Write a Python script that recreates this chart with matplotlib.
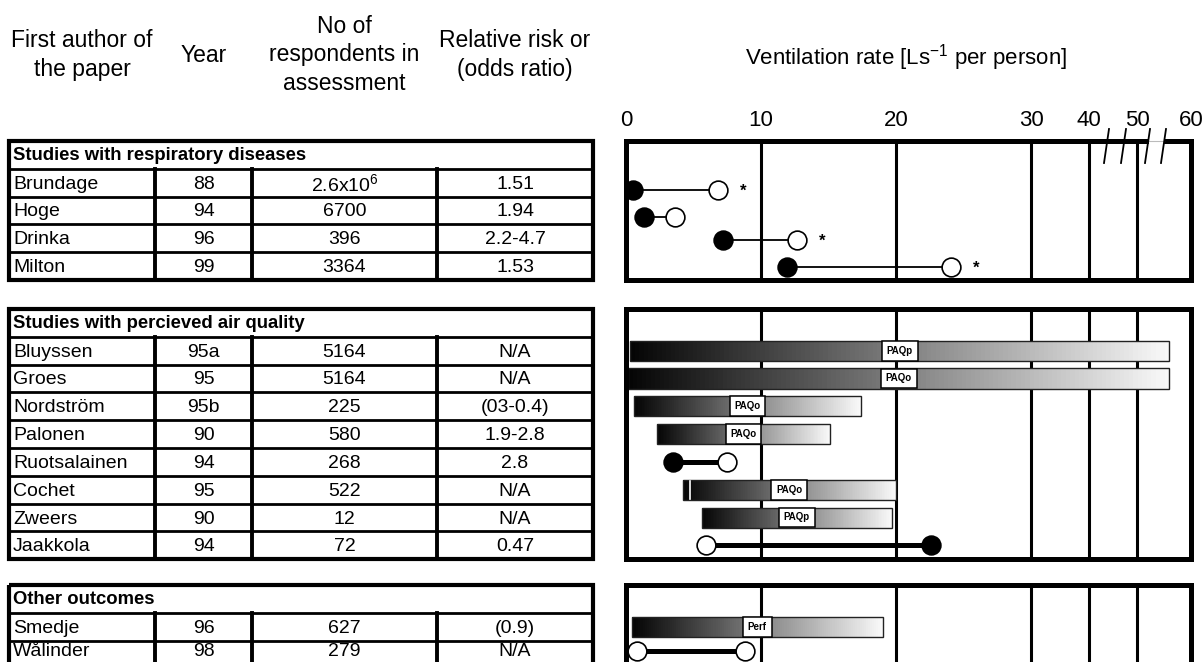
import matplotlib
matplotlib.use("Agg")
import matplotlib.pyplot as plt
from matplotlib.patches import Rectangle
import numpy as np

plt.rcParams['font.family'] = ['Liberation Sans', 'DejaVu Sans']
plt.rcParams['mathtext.default'] = 'regular'

# ventilation axis (broken above 30)
vent_ticks = [0, 10, 20, 30, 40, 50, 60]

# studies with respiratory diseases (filled = low, open = high)
resp_names = ["Brundage", "Hoge", "Drinka", "Milton"]
resp_year = ["88", "94", "96", "99"]
resp_n = ["2.6x10$^6$", "6700", "396", "3364"]
resp_rr = ["1.51", "1.94", "2.2-4.7", "1.53"]
resp_lo = [0.5, 1.3, 7.2, 11.9]
resp_hi = [6.8, 3.6, 12.7, 24.1]
resp_sig = [True, False, True, True]

# studies with perceived air quality
paq_names = ["Bluyssen", "Groes", "Nordström", "Palonen", "Ruotsalainen",
             "Cochet", "Zweers", "Jaakkola"]
paq_year = ["95a", "95", "95b", "90", "94", "95", "90", "94"]
paq_n = ["5164", "5164", "225", "580", "268", "522", "12", "72"]
paq_rr = ["N/A", "N/A", "(03-0.4)", "1.9-2.8", "2.8", "N/A", "N/A", "0.47"]
paq_lo = [0.3, 0.15, 0.6, 2.3, 3.5, 4.2, 5.6, 5.9]
paq_hi = [56, 56, 17.4, 15.1, 7.5, 20.0, 19.7, 22.6]
paq_kind = ["PAQp", "PAQo", "PAQo", "PAQo", "fo", "PAQo", "PAQp", "of"]
cochet_split = 4.75

# other outcomes
oth_names = ["Smedje", "Wålinder"]
oth_year = ["96", "98"]
oth_n = ["627", "279"]
oth_rr = ["(0.9)", "N/A"]
oth_lo = [0.45, 0.8]
oth_hi = [19.0, 8.8]
oth_kind = ["Perf", "oo"]

W, H = 1204, 662
fig = plt.figure(figsize=(W / 100, H / 100), dpi=100)

# where the ticks sit on the drawn axis (compressed above 30)
tick_pos = [0, 10, 20, 30, 34.3, 37.85, 41.85]


def fwd(x):
    return np.interp(x, vent_ticks, tick_pos)


def inv(x):
    return np.interp(x, tick_pos, vent_ticks)


PX_L, PX_R = 626, 1191
RH = 27.8
COLS = [9, 155, 252, 437, 593]


def panel(top, bottom):
    ax = fig.add_axes([PX_L / W, 1 - bottom / H, (PX_R - PX_L) / W,
                       (bottom - top) / H])
    ax.set_xscale('function', functions=(fwd, inv))
    ax.set_xlim(0, 60)
    ax.set_ylim(bottom, top)
    ax.set_xticks(vent_ticks, labels=[str(t) for t in vent_ticks])
    ax.set_yticks([])
    ax.tick_params(axis='x', length=0, labelbottom=False, labelsize=16)
    for s in ax.spines.values():
        s.set_linewidth(3.6)
    for v in vent_ticks[1:-1]:
        ax.axvline(v, color='k', lw=2.2, zorder=1)
    return ax


def grad_bar(ax, y, lo, hi, tag, h=20):
    d0, d1 = fwd(lo), fwd(hi)
    edges = inv(np.linspace(d0, d1, 121))
    shades = plt.cm.gray(np.linspace(0.02, 0.97, 120))
    ax.barh(np.full(120, y), np.diff(edges), left=edges[:-1], height=h,
            color=shades, linewidth=0, antialiased=False, zorder=1.5)
    ax.barh(y, hi - lo, left=lo, height=h, fill=False, edgecolor='#222222',
            linewidth=1.0, zorder=1.6)
    ax.text(inv((d0 + d1) / 2), y, tag, ha='center', va='center',
            fontsize=7, fontweight='bold', zorder=3,
            bbox=dict(boxstyle='square,pad=0.5', fc='white', ec='black',
                      lw=1.1))


def dumbbell(ax, y, lo, hi, lo_fc, hi_fc, lw):
    ax.plot([lo, hi], [y, y], color='k', lw=lw, zorder=2,
            solid_capstyle='butt')
    ax.plot(lo, y, 'o', ms=13.5, mfc=lo_fc, mec='k', mew=1.2, zorder=2.2)
    ax.plot(hi, y, 'o', ms=13.5, mfc=hi_fc, mec='k', mew=1.2, zorder=2.2)


FILL = {'f': 'black', 'o': 'white'}


def draw_rows(ax, ys, lo, hi, kinds):
    for y, a, b, k in zip(ys, lo, hi, kinds):
        if len(k) == 2:
            dumbbell(ax, y, a, b, FILL[k[0]], FILL[k[1]], 3.6)
        else:
            grad_bar(ax, y, a, b, k)


tab = None


def table(top, title, names, years, ns, rrs):
    n = len(names) + 1
    bot = top + n * RH
    tab.add_patch(Rectangle((COLS[0], top), COLS[-1] - COLS[0], bot - top,
                            fill=False, lw=3, ec='k'))
    for i in range(1, n):
        y = top + i * RH
        tab.plot([COLS[0], COLS[-1]], [y, y], color='k', lw=2)
    for x in COLS[1:-1]:
        tab.plot([x, x], [top + RH, bot], color='k', lw=2.8)
    tab.text(COLS[0] + 4, top + RH / 2 + 1, title, fontweight='bold',
             fontsize=13.3, ha='left', va='center')
    centers = []
    cell = dict(va='center', fontsize=14)
    for i, row in enumerate(zip(names, years, ns, rrs)):
        yc = top + (i + 1.5) * RH
        centers.append(yc)
        # last row of the bottom table is cut by the picture edge
        ty = min(yc + 1.5, H - 10.5)
        tab.text(COLS[0] + 4, ty, row[0], ha='left', **cell)
        for j in range(1, 4):
            tab.text((COLS[j] + COLS[j + 1]) / 2, ty, row[j],
                     ha='center', **cell)
    return bot, centers


# right-hand panels
T1, T2, T3 = 141, 309, 585
ax1 = panel(T1, T1 + 5 * RH)
ax1.tick_params(axis='x', labeltop=True, pad=7)
ax2 = panel(T2, T2 + 9 * RH)
ax3 = panel(T3, T3 + 3 * RH)
ax3.spines['bottom'].set_visible(False)

# overlay in pixel units for the table, headers and axis breaks
tab = fig.add_axes([0, 0, 1, 1])
tab.set_xlim(0, W)
tab.set_ylim(H, 0)
tab.axis('off')

_, c1 = table(T1, "Studies with respiratory diseases", resp_names,
              resp_year, resp_n, resp_rr)
_, c2 = table(T2, "Studies with percieved air quality", paq_names,
              paq_year, paq_n, paq_rr)
_, c3 = table(T3, "Other outcomes", oth_names, oth_year, oth_n, oth_rr)

resp_y = [190, 217, 240, 267]
for y, a, b, s in zip(resp_y, resp_lo, resp_hi, resp_sig):
    dumbbell(ax1, y, a, b, 'black', 'white', 1.3)
    if s:
        ax1.annotate('*', xy=(b, y), xytext=(18, -1),
                     textcoords='offset points', ha='center', va='center',
                     fontsize=12, fontweight='bold')

draw_rows(ax2, c2, paq_lo, paq_hi, paq_kind)
ci = paq_names.index("Cochet")
ax2.plot([cochet_split, cochet_split], [c2[ci] - 9, c2[ci] + 9],
         color='white', lw=1.2, zorder=1.7)
oth_y = [c3[0], 651]
draw_rows(ax3, oth_y, oth_lo, oth_hi, oth_kind)

# column headers
hdr = dict(ha='center', va='center', fontsize=16.5, linespacing=1.28)
tab.text((COLS[0] + COLS[1]) / 2, 55, "First author of\nthe paper", **hdr)
tab.text((COLS[1] + COLS[2]) / 2, 55, "Year", **hdr)
tab.text((COLS[2] + COLS[3]) / 2, 55, "No of\nrespondents in\nassessment",
         **hdr)
tab.text((COLS[3] + COLS[4]) / 2, 55, "Relative risk or\n(odds ratio)",
         **hdr)
tab.text(906, 58, "Ventilation rate [Ls$^{-1}$ per person]", ha='center',
         va='center', fontsize=16)

# axis break marks
tab.add_patch(Rectangle((1149, 138), 15, 7, fc='white', ec='none',
                        zorder=1))
tab.plot([1149, 1164], [141, 141], color='#bbbbbb', lw=0.8, zorder=1.5)
for xb in [1104, 1121, 1145, 1161]:
    tab.plot([xb, xb + 5], [163, 129], color='k', lw=1.3, zorder=2)

fig.savefig("out.png", dpi=100)
